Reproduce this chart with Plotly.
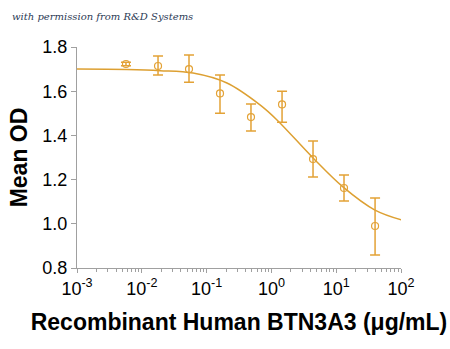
import plotly.graph_objects as go

# Data points (concentration in ug/mL, mean OD, error)
conc = [0.0057, 0.0178, 0.0535, 0.161, 0.484, 1.46, 4.39, 13.2, 39.8]
od = [1.723, 1.714, 1.700, 1.590, 1.483, 1.540, 1.293, 1.162, 0.990]
err_plus = [0.008, 0.045, 0.064, 0.083, 0.059, 0.060, 0.082, 0.059, 0.127]
err_minus = [0.008, 0.041, 0.060, 0.090, 0.063, 0.080, 0.081, 0.059, 0.131]

# Fitted curve
curve_x = [0.001, 0.0059, 0.0191, 0.0617, 0.206, 0.667, 1.22, 4.39, 12.7, 39.7, 103.5]
curve_y = [1.700, 1.698, 1.693, 1.682, 1.637, 1.538, 1.470, 1.298, 1.167, 1.062, 1.017]

x_tickvals = [0.001, 0.01, 0.1, 1, 10, 100]
x_ticktext = ["10<sup>-3</sup>", "10<sup>-2</sup>", "10<sup>-1</sup>",
              "10<sup>0</sup>", "10<sup>1</sup>", "10<sup>2</sup>"]
x_minor = [m * d for d in [0.001, 0.01, 0.1, 1, 10] for m in range(2, 10)]
y_tickvals = [0.8, 1.0, 1.2, 1.4, 1.6, 1.8]
y_ticktext = ["0.8", "1.0", "1.2", "1.4", "1.6", "1.8"]

color = "#E3A236"

fig = go.Figure()
fig.add_trace(go.Scatter(
    x=curve_x, y=curve_y, mode="lines", line=dict(color="#DDA032", width=1.5, shape="spline"),
    hoverinfo="skip", showlegend=False))
fig.add_trace(go.Scatter(
    x=conc, y=od, mode="markers",
    marker=dict(symbol="circle-open", size=7, color=color, line=dict(width=1.2, color=color)),
    error_y=dict(type="data", symmetric=False, array=err_plus, arrayminus=err_minus,
                 color=color, thickness=1.5, width=5),
    showlegend=False))

axis_color = "#A0A0A0"
fig.update_layout(
    width=450, height=349,
    margin=dict(l=77, r=49, t=47, b=81),
    paper_bgcolor="white", plot_bgcolor="white",
    font=dict(family="Liberation Sans, Arial, sans-serif", color="black"),
    xaxis=dict(
        type="log", range=[-3, 2], tickvals=x_tickvals, ticktext=x_ticktext,
        showline=True, linecolor=axis_color, linewidth=1, showgrid=False, zeroline=False,
        ticks="outside", ticklen=4, tickcolor=axis_color, tickfont=dict(size=18),
        minor=dict(tickmode="array", tickvals=x_minor, ticks="outside", ticklen=3,
                   tickcolor=axis_color, showgrid=False),
        title=dict(text="<b>Recombinant Human BTN3A3 (μg/mL)</b>", font=dict(size=23), standoff=16),
    ),
    yaxis=dict(
        range=[0.8, 1.8], tickvals=y_tickvals, ticktext=y_ticktext,
        showline=True, linecolor=axis_color, linewidth=1, showgrid=False, zeroline=False,
        ticks="outside", ticklen=5, tickcolor=axis_color, tickfont=dict(size=18),
        title=dict(text="<b>Mean OD</b>", font=dict(size=23), standoff=8),
    ),
    annotations=[dict(
        text="<i>with permission from R&amp;D Systems</i>", xref="paper", yref="paper",
        x=-0.207, y=1.14, xanchor="left", yanchor="middle", showarrow=False,
        font=dict(family="DejaVu Serif, serif", size=10, color="#2B3A55"))],
)

fig.write_html("out.html")
